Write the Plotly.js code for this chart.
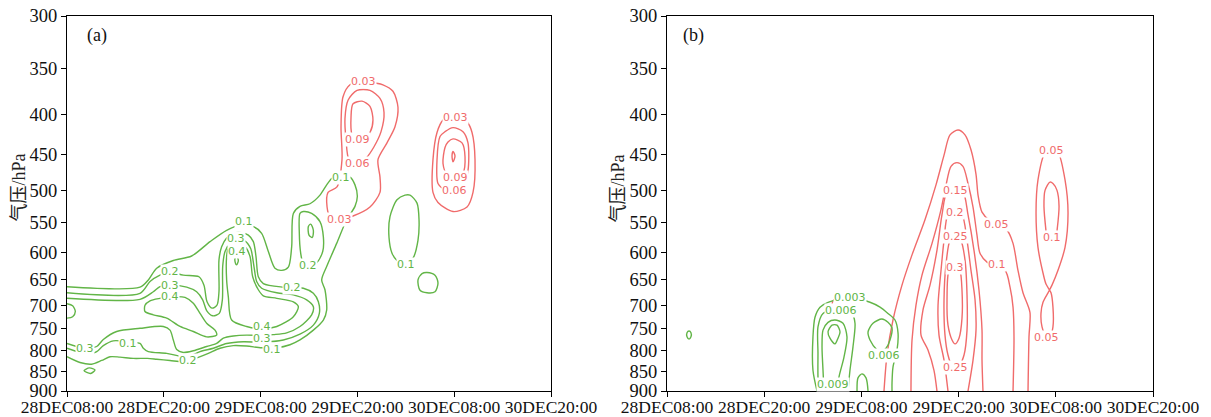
<!DOCTYPE html>
<html><head><meta charset="utf-8">
<script src="https://cdn.plot.ly/plotly-3.0.1.min.js"></script>
<style>html,body{margin:0;padding:0;background:#fff}#chart{width:1211px;height:417px}</style>
</head><body><div id="chart"></div>
<script>
// ---- axes ----
const timeLabels = ['28DEC08:00','28DEC20:00','29DEC08:00','29DEC20:00','30DEC08:00','30DEC20:00'];
const timeHours = [0,12,24,36,48,60];            // hours after 28DEC08:00
const pressureTicks = [300,350,400,450,500,550,600,650,700,750,800,850,900];

// ---- panel (a) green contours : [hour, hPa] ----
const aG_line1 = [[0,663],[9.05,664],[10.08,650],[11.12,628],[13.18,614],[15.45,606],[17.73,581],[19.79,562],[21.45,554],[23.10,556],[24.13,567],[24.96,598],[25.78,628],[26.61,632],[27.44,626],[27.85,590],[28.06,535],[28.88,524],[30.12,520],[31.36,507],[32.19,492],[32.81,483],[33.43,479],[35.08,481],[35.70,492],[35.99,509],[35.70,524],[34.67,545],[33.43,584],[32.19,625],[31.57,650],[31.98,669],[32.19,710],[31.78,731],[30.54,753],[28.88,775],[27.64,786],[26.01,793],[24.13,793],[22.27,789],[20.62,788],[18.97,794],[17.52,806],[15.66,820],[14.42,826],[12.77,823],[11.12,820],[9.96,818],[8.22,818],[6.57,815],[5.33,814],[4.30,823],[3.06,832],[1.61,828],[0,814]];
const aG_line2 = [[0,675],[9.05,676],[10.29,653],[11.53,641],[12.77,635],[14.42,641],[16.36,644],[16.98,660],[17.36,693],[17.98,706],[18.59,700],[18.84,673],[18.84,613],[19.17,590],[19.79,575],[20.62,567],[21.65,566],[22.48,570],[23.10,581],[23.43,607],[23.72,644],[24.34,657],[26.82,664],[29.30,666],[30.54,676],[31.16,693],[31.28,717],[30.54,742],[28.88,762],[26.82,775],[24.13,780],[21.86,779],[19.79,783],[18.14,794],[16.49,802],[15.04,814],[13.80,812],[12.36,806],[10.08,802],[9.46,794],[9.05,783],[7.60,779],[5.74,777],[4.50,788],[3.68,802],[2.85,808],[1.61,804],[0,794]];
const aG_line3 = [[0,686],[9.05,688],[10.70,673],[11.53,663],[12.77,660],[14.84,664],[16.07,673],[16.82,689],[17.31,711],[18.06,722],[18.88,717],[19.26,689],[19.30,625],[19.59,598],[20.21,584],[21.03,578],[22.07,580],[22.77,593],[23.18,625],[23.51,653],[24.13,666],[26.01,675],[28.06,679],[29.71,689],[30.54,703],[30.33,720],[28.88,745],[27.23,759],[25.58,763],[24.13,765],[22.27,764],[20.62,766],[19.38,771],[18.55,783],[17.31,790],[15.66,800],[14.42,804],[13.60,797],[13.18,775],[12.77,753],[11.94,745],[9.05,749],[6.16,756],[4.50,774],[3.68,790],[2.23,794],[0,783]];
const aG_loopWest = [[9.67,700],[10.29,691],[11.53,686],[12.77,683],[14.63,684],[15.66,696],[16.49,717],[17.31,738],[18.35,753],[18.55,764],[17.31,768],[15.66,756],[14.01,745],[12.36,727],[10.70,720],[9.67,713],[9.67,700]];
const aG_loopColumn = [[20.00,593],[21.03,587],[22.07,590],[22.69,607],[23.02,644],[23.72,669],[24.34,681],[26.01,686],[28.06,693],[28.68,703],[28.06,724],[26.01,745],[24.13,750],[22.27,745],[20.41,731],[20.00,683],[19.79,650],[19.79,607],[20.00,593]];
const aG_loopTiny = [[20.83,610],[21.03,606],[21.24,614],[21.03,622],[20.83,616],[20.83,610]];
const aG_loopBlob = [[28.88,535],[28.80,567],[28.97,601],[29.22,616],[29.92,624],[30.95,618],[31.70,598],[31.78,573],[31.36,548],[30.33,535],[29.30,532],[28.88,535]];
const aG_loopBlobIn = [[29.92,556],[30.21,552],[30.54,562],[30.41,574],[30.00,570],[29.92,556]];
const aG_edge = [[0,697],[0.70,701],[1.03,713],[0.70,724],[0,727]];
const aG_oval = [[2.11,848],[2.77,841],[3.47,846],[2.93,855],[2.11,848]];
const aG_east = [[41.90,507],[40.91,514],[40.04,540],[39.92,574],[40.29,601],[40.91,614],[42.03,620],[42.89,610],[43.51,579],[43.64,545],[43.39,519],[42.52,507],[41.90,507]];
const aG_ring = [[44.63,636],[45.62,641],[45.99,656],[45.62,673],[44.63,675],[43.76,670],[43.51,650],[44.01,638],[44.63,636]];

// ---- panel (a) red contours ----
const aR_w03 = [[35.08,367],[34.22,380],[33.97,415],[34.09,457],[33.47,495],[32.36,503],[32.24,525],[32.60,540],[33.84,544],[35.46,539],[37.56,525],[38.80,503],[38.80,481],[38.55,457],[39.67,435],[40.66,415],[41.03,392],[40.41,374],[39.17,367],[38.18,365],[36.70,363],[35.08,367]];
const aR_w06 = [[34.96,457],[34.59,431],[34.46,405],[34.84,384],[35.95,373],[37.56,373],[38.80,382],[39.30,398],[38.93,421],[38.06,440],[37.07,455],[35.95,463],[34.96,457]];
const aR_w09 = [[35.33,425],[35.21,403],[35.46,388],[36.57,385],[37.56,391],[37.93,407],[37.56,422],[36.70,431],[35.70,431],[35.33,425]];
const aR_e03 = [[46.61,407],[45.87,422],[45.37,457],[45.37,503],[45.99,518],[47.85,532],[49.59,525],[50.33,503],[50.58,457],[50.21,422],[49.59,409],[48.10,401],[46.61,407]];
const aR_e06 = [[46.24,427],[45.87,457],[45.99,490],[46.86,499],[48.10,502],[49.09,495],[49.71,472],[49.71,435],[49.09,421],[47.85,416],[46.86,421],[46.24,427]];
const aR_e09 = [[46.86,441],[46.61,462],[47.11,478],[48.10,483],[49.09,475],[49.34,453],[48.97,435],[47.85,430],[47.23,434],[46.86,441]];
const aR_e12 = [[47.85,446],[48.10,452],[47.85,460],[47.73,452],[47.85,446]];

// ---- panel (b) green contours ----
const bG_003 = [[18.52,900],[18.02,847],[18.02,768],[18.27,725],[18.89,704],[19.88,694],[22.59,685],[25.06,694],[26.30,704],[27.28,717],[28.15,731],[28.52,759],[28.40,798],[27.90,839],[27.78,879],[27.78,900]];
const bG_006 = [[18.77,900],[18.64,864],[18.64,805],[18.64,746],[19.26,717],[21.36,708],[22.84,717],[23.21,738],[22.96,791],[22.59,847],[22.35,900]];
const bG_009 = [[19.38,900],[19.26,847],[19.14,791],[19.26,753],[19.88,736],[20.74,731],[21.73,738],[22.22,768],[21.85,815],[21.23,864],[20.99,900]];
const bG_tear = [[19.88,757],[20.37,742],[20.99,742],[21.36,757],[21.11,771],[20.74,784],[20.12,771],[19.88,757]];
const bG_east = [[25.93,798],[25.06,775],[24.82,757],[25.43,738],[26.54,729],[27.28,736],[27.78,748],[27.53,775],[27.04,794],[26.30,803],[25.93,798]];
const bG_arch = [[23.46,900],[23.58,866],[24.07,856],[24.57,866],[24.82,900]];
const bG_dot = [[2.47,759],[2.72,755],[2.96,759],[2.96,768],[2.72,773],[2.47,768],[2.47,759]];

// ---- panel (b) red contours ----
const bR_05 = [[26.79,900],[27.16,810],[27.90,731],[29.01,660],[30.25,604],[31.85,545],[33.21,492],[34.20,451],[34.94,425],[35.93,419],[36.79,425],[37.53,444],[38.15,477],[38.40,507],[38.89,533],[39.88,547],[41.98,562],[42.72,584],[43.33,632],[43.95,675],[44.81,715],[44.69,768],[44.57,900]];
const bR_10 = [[30.12,900],[30.25,775],[30.74,700],[31.48,641],[32.72,584],[33.83,529],[34.44,493],[35.06,466],[35.80,461],[36.54,466],[37.16,490],[37.78,525],[38.27,570],[38.64,601],[39.51,617],[41.73,632],[42.35,664],[42.72,704],[42.84,768],[42.72,900]];
const bR_15 = [[33.33,900],[32.96,847],[32.22,798],[31.36,764],[31.60,710],[32.47,660],[33.33,596],[33.95,537],[34.57,502],[35.56,498],[36.54,502],[37.16,537],[37.90,596],[38.52,670],[38.89,753],[38.89,822],[39.01,900]];
const bR_20 = [[34.69,900],[34.20,822],[33.58,764],[33.46,700],[33.83,632],[34.20,579],[34.69,537],[35.56,533],[36.42,537],[37.04,579],[37.53,632],[38.03,689],[38.15,753],[37.78,822],[37.16,900]];
const bR_25 = [[35.56,572],[34.94,579],[34.44,622],[34.20,689],[34.32,764],[34.69,810],[35.19,837],[35.56,842],[36.05,837],[36.67,810],[37.04,753],[37.04,679],[36.79,613],[36.30,580],[35.56,572]];
const bR_30 = [[35.56,619],[34.81,632],[34.57,689],[34.69,742],[35.19,775],[35.56,784],[36.05,771],[36.42,727],[36.42,670],[36.17,632],[35.56,619]];
const bR_east05 = [[47.53,443],[48.27,447],[49.14,485],[49.51,534],[49.14,591],[48.27,632],[47.53,660],[47.04,675],[46.42,694],[46.17,717],[46.30,746],[46.79,766],[47.28,768],[47.65,746],[47.65,704],[47.41,675],[46.79,658],[46.42,637],[45.80,591],[45.56,534],[45.80,485],[46.67,448],[47.53,443]];
const bR_east10 = [[46.79,563],[46.54,524],[46.67,500],[47.28,488],[47.65,490],[48.15,500],[48.40,524],[48.15,563]];
const bR_arc = [[20.37,697],[20.62,689],[20.99,697]];

// ---- contour labels : [hour, hPa, text] ----
const aLabelsGreen = [[20.9,575,'0.3'],[21.03,598,'0.4'],[21.9,548,'0.1'],[33.97,481,'0.1'],[12.77,635,'0.2'],[12.77,660,'0.3'],[12.77,682,'0.4'],[27.85,664,'0.2'],[29.92,624,'0.2'],[24.13,772,'0.3'],[24.13,746,'0.4'],[25.45,796,'0.1'],[15.04,822,'0.2'],[7.60,783,'0.1'],[2.23,794,'0.3'],[42.03,621,'0.1']];
const aLabelsRed = [[36.70,363,'0.03'],[35.95,431,'0.09'],[35.95,462,'0.06'],[33.84,544,'0.03'],[48.10,404,'0.03'],[48.10,482,'0.09'],[47.98,500,'0.06']];
const bLabelsGreen = [[22.59,685,'0.003'],[21.48,710,'0.006'],[20.49,884,'0.009'],[26.79,812,'0.006']];
const bLabelsRed = [[35.56,500,'0.15'],[35.56,534,'0.2'],[35.56,572,'0.25'],[35.56,626,'0.3'],[35.56,840,'0.25'],[40.74,553,'0.05'],[40.74,622,'0.1'],[47.53,445,'0.05'],[47.53,574,'0.1'],[46.9,770,'0.05']];

const GREEN = '#62b547';
const RED = '#f06b6b';

function line(pts, panel, color){
  return {type:'scatter', mode:'lines',
    x: pts.map(p=>p[0]), y: pts.map(p=>p[1]),
    xaxis: panel==='a'?'x':'x2', yaxis: panel==='a'?'y':'y2',
    line:{color:color, width:1.4, shape:'spline', smoothing:0.8},
    hoverinfo:'skip', showlegend:false};
}
const traces = [];
[aG_line1,aG_line2,aG_line3,aG_loopWest,aG_loopColumn,aG_loopTiny,aG_loopBlob,aG_loopBlobIn,aG_edge,aG_oval,aG_east,aG_ring].forEach(p=>traces.push(line(p,'a',GREEN)));
[aR_w03,aR_w06,aR_w09,aR_e03,aR_e06,aR_e09,aR_e12].forEach(p=>traces.push(line(p,'a',RED)));
[bR_05,bR_10,bR_15,bR_20,bR_25,bR_30,bR_east05,bR_east10,bR_arc].forEach(p=>traces.push(line(p,'b',RED)));
[bG_003,bG_006,bG_009,bG_tear,bG_east,bG_arch,bG_dot].forEach(p=>traces.push(line(p,'b',GREEN)));

const annotations = [];
function addLabels(list, panel, color){
  list.forEach(l=>annotations.push({
    xref: panel==='a'?'x':'x2', yref: panel==='a'?'y':'y2',
    x: l[0], y: Math.log10(l[1]), text: l[2], showarrow:false,
    font:{family:'DejaVu Sans', size:11, color:color},
    bgcolor:'#ffffff', borderpad:0, xanchor:'center', yanchor:'middle'}));
}
addLabels(aLabelsRed,'a',RED); addLabels(aLabelsGreen,'a',GREEN);
addLabels(bLabelsGreen,'b',GREEN); addLabels(bLabelsRed,'b',RED);

const serif = 'Liberation Serif, Times New Roman, serif';
[18.5/1211, 617.5/1211].forEach(px=>annotations.push({
  xref:'paper', yref:'paper', x:px, y:1-188/417, text:'气压/hPa', textangle:-90,
  showarrow:false, font:{family:'Liberation Serif, Noto Sans CJK SC', size:18, color:'#222'}, xanchor:'center', yanchor:'middle'}));
annotations.push({xref:'paper', yref:'paper', x:97/1211, y:1-35/417, text:'(a)', showarrow:false, xanchor:'center', yanchor:'middle', font:{family:serif, size:18, color:'#111'}});
annotations.push({xref:'paper', yref:'paper', x:693/1211, y:1-35/417, text:'(b)', showarrow:false, xanchor:'center', yanchor:'middle', font:{family:serif, size:18, color:'#111'}});

function xAxis(domain, anchor){
  return {domain:domain, anchor:anchor, range:[0,60], tickvals:timeHours, ticktext:timeLabels,
    ticks:'outside', ticklen:5, tickcolor:'#000', showline:true, linecolor:'#000', linewidth:1,
    mirror:true, showgrid:false, zeroline:false, fixedrange:true, ticklabelstandoff:-5,
    tickfont:{family:serif, size:17.5, color:'#111'}};
}
function yAxis(anchor){
  return {domain:[1-391/417, 1-16/417], anchor:anchor, type:'log',
    range:[Math.log10(900), Math.log10(300)], tickvals:pressureTicks, ticktext:pressureTicks.map(String),
    ticks:'outside', ticklen:5, tickcolor:'#000', showline:true, linecolor:'#000', linewidth:1,
    mirror:true, showgrid:false, zeroline:false, fixedrange:true,
    tickfont:{family:serif, size:18.5, color:'#111'}};
}
const layout = {
  width:1211, height:417, margin:{l:0,r:0,t:0,b:0},
  paper_bgcolor:'#fff', plot_bgcolor:'#fff', showlegend:false,
  xaxis: xAxis([67/1211, 551/1211], 'y'),
  yaxis: yAxis('x'),
  xaxis2: xAxis([667/1211, 1153/1211], 'y2'),
  yaxis2: yAxis('x2'),
  annotations: annotations
};
Plotly.newPlot('chart', traces, layout, {staticPlot:true, displayModeBar:false});
</script></body></html>
